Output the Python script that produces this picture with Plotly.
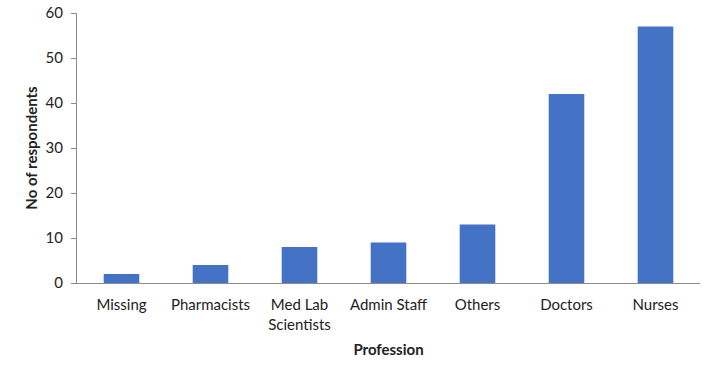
import plotly.graph_objects as go

categories = ["Missing", "Pharmacists", "Med Lab<br>Scientists", "Admin Staff", "Others", "Doctors", "Nurses"]
values = [2, 4, 8, 9, 13, 42, 57]
y_ticks = [0, 10, 20, 30, 40, 50, 60]

font_family = "Lato, Carlito, Calibri, sans-serif"

fig = go.Figure(go.Bar(x=categories, y=values, marker_color="#4472C4", marker_line_width=0))

fig.update_layout(
    width=715, height=377,
    margin=dict(l=77, r=15, t=13, b=94, autoexpand=False),
    paper_bgcolor="white", plot_bgcolor="white",
    bargap=0.6,
    showlegend=False,
    font=dict(family=font_family, size=15, color="#222222"),
)
fig.update_xaxes(
    automargin=True,
    showline=True, linecolor="#8C8C8C", linewidth=1,
    showgrid=False, ticks="", tickfont=dict(size=15),
    ticklabelstandoff=8,
    ticklabeloverflow="allow",
    title=dict(text="<b>Profession</b>", font=dict(size=15), standoff=12),
)
fig.update_yaxes(
    automargin=True,
    range=[0, 60], tickvals=y_ticks,
    showline=True, linecolor="#8C8C8C", linewidth=1,
    showgrid=False, zeroline=False,
    ticks="outside", ticklen=5, tickcolor="#8C8C8C",
    ticklabelstandoff=5,
    ticklabeloverflow="allow",
    tickfont=dict(size=15),
    title=dict(text="<b>No of respondents</b>", font=dict(size=15), standoff=4),
)

fig.write_html(
    "out.html",
    config={"displayModeBar": False},
    post_script="document.body.style.margin='0';",
)
